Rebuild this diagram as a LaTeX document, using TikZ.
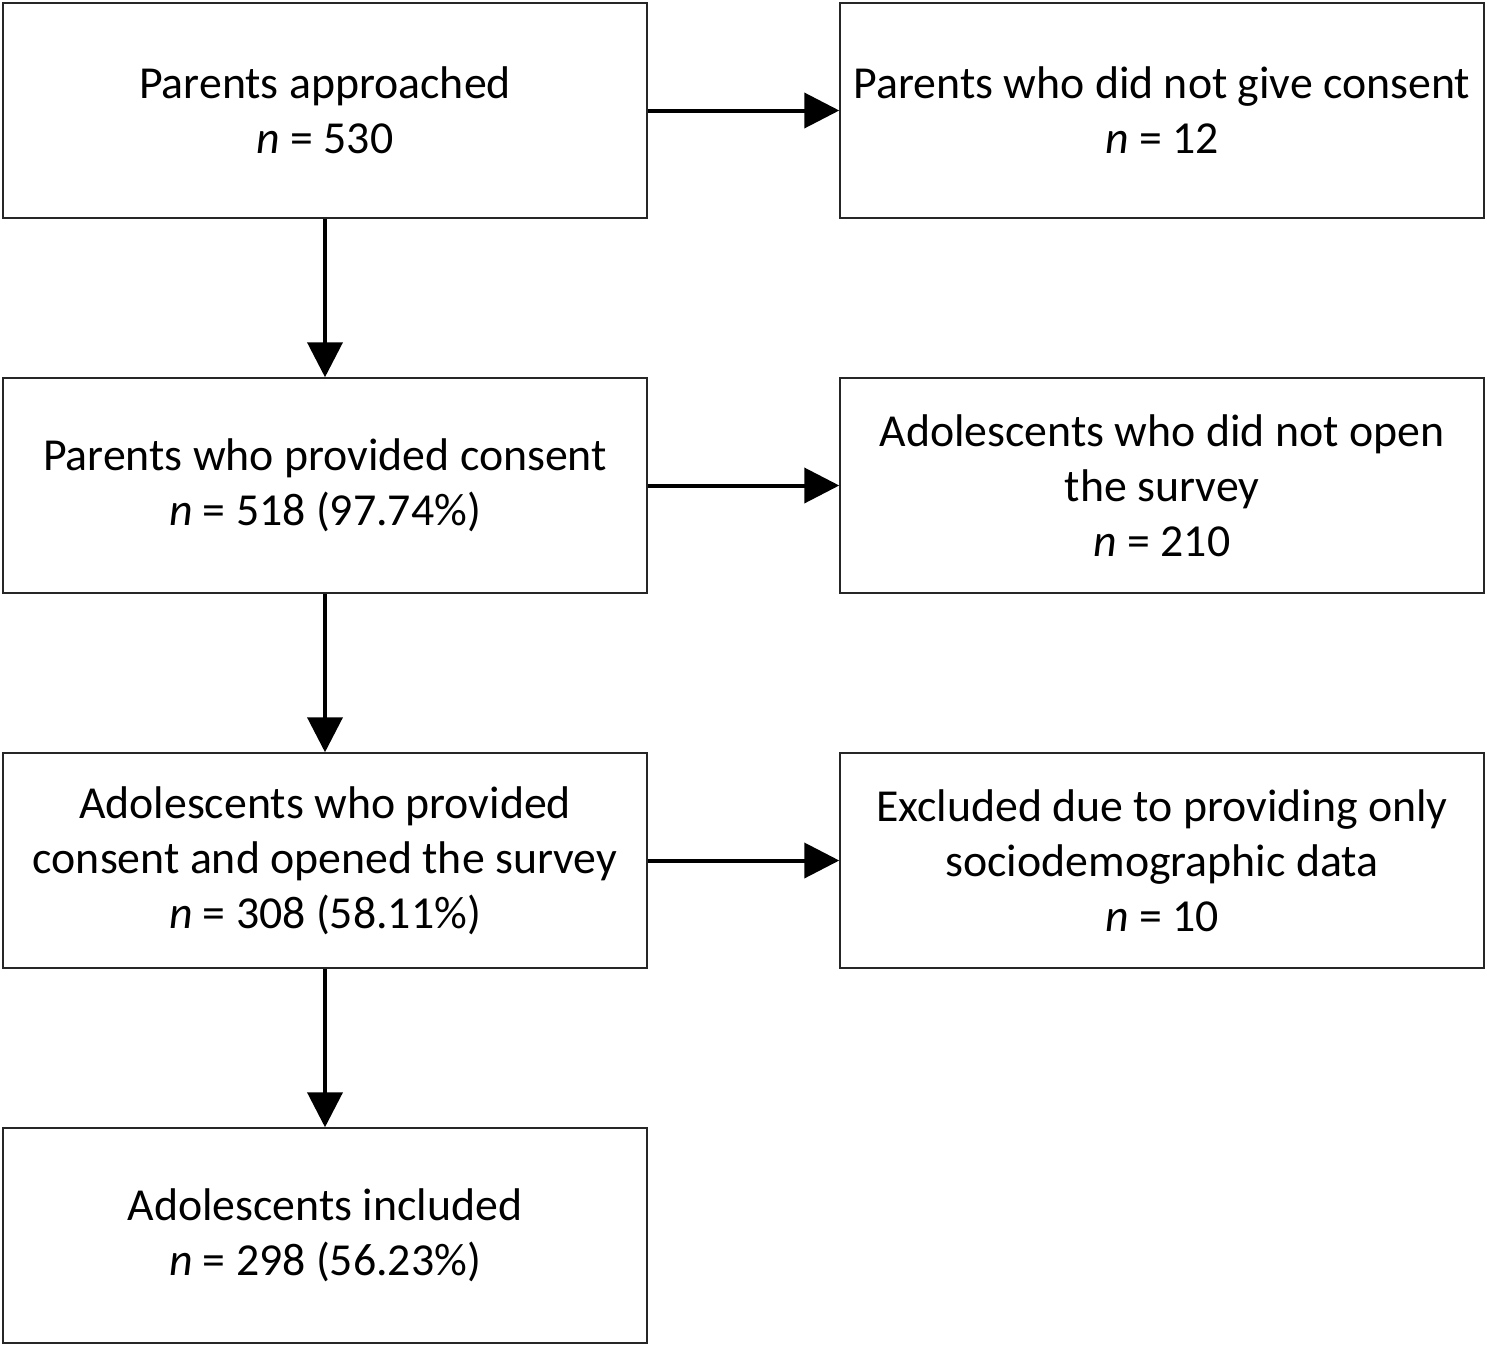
\documentclass[tikz,border=0pt]{standalone}
\usepackage{fontspec}
\setmainfont{Carlito}
\usetikzlibrary{arrows.meta}
\begin{document}
\begin{tikzpicture}[x=1pt,y=-1pt,
  box/.style={draw=black!85, line width=1.5pt, minimum width=644pt, minimum height=215pt,
    align=center, font=\fontsize{45.8}{55}\selectfont, inner sep=0pt},
  arr/.style={line width=4pt, -{Triangle[length=35pt,width=35pt]}}]
\useasboundingbox (0,0) rectangle (1488,1347);
\node[box] (a) at (325,110.5) {Parents approached\\\textit{n} = 530};
\node[box] (b) at (1162,110.5) {Parents who did not give consent\\\textit{n} = 12};
\node[box] (c) at (325,485.5) {Parents who provided consent\\\textit{n} = 518 (97.74\%)};
\node[box] (d) at (1162,485.5) {Adolescents who did not open\\the survey\\\textit{n} = 210};
\node[box] (e) at (325,860.5) {Adolescents who provided\\consent and opened the survey\\\textit{n} = 308 (58.11\%)};
\node[box] (f) at (1162,860.5) {Excluded due to providing only\\sociodemographic data\\\textit{n} = 10};
\node[box] (g) at (325,1235.5) {Adolescents included\\\textit{n} = 298 (56.23\%)};
\draw[arr] (a.east) -- (b.west);
\draw[arr] (c.east) -- (d.west);
\draw[arr] (e.east) -- (f.west);
\draw[arr] (a.south) -- (c.north);
\draw[arr] (c.south) -- (e.north);
\draw[arr] (e.south) -- (g.north);
\end{tikzpicture}
\end{document}
